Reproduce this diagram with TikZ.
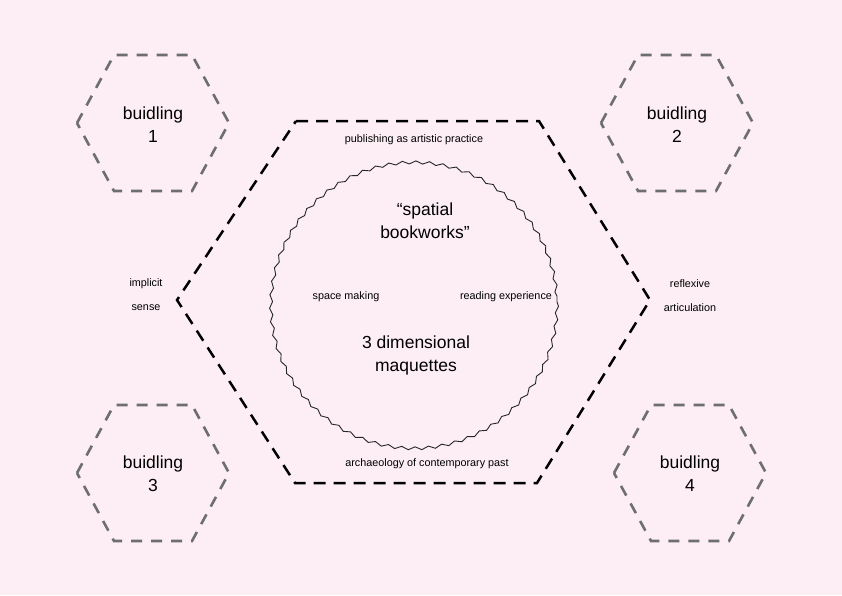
\documentclass[tikz,border=0pt]{standalone}
\usepackage{fontspec}
\setmainfont{Liberation Sans}
\usetikzlibrary{decorations.pathmorphing,calc}
\definecolor{bg}{HTML}{FCEEF4}
\definecolor{hexgray}{HTML}{6E6E6E}
\begin{document}
\begin{tikzpicture}[x=1pt,y=-1pt,
  bighex/.style={draw=black,line width=2.5pt,dash pattern=on 12pt off 8pt},
  smallhex/.style={draw=hexgray,line width=2.6pt,dash pattern=on 11pt off 9pt},
  bigtxt/.style={font=\fontsize{17.5}{21}\selectfont,align=center,inner sep=0pt},
  smalltxt/.style={font=\fontsize{10.8}{13}\selectfont,inner sep=0pt},
  wavy/.style={draw=black!85,line width=0.9pt,decorate,decoration={snake,amplitude=1.5pt,segment length=13.5pt}}]
\fill[bg] (0,0) rectangle (842,595);
\useasboundingbox (0,0) rectangle (842,595);
% big hexagon
\coordinate (h1) at (296,121);
\coordinate (h2) at (539,121);
\coordinate (h3) at (650,300);
\coordinate (h4) at (537,483);
\coordinate (h5) at (295,483);
\coordinate (h6) at (177,300);
\draw[bighex] (h1) -- (h2) -- (h3) -- (h4) -- (h5) -- (h6) -- cycle;
% wavy circle
\coordinate (cc) at (414,302);
\draw[wavy] (cc) circle (143);
% small hexagons
\foreach \n/\cx/\cy in {1/153/123, 2/677/123, 3/153/473, 4/690/473}{
  \draw[smallhex, shift={(\cx,\cy)}] (-76,0) -- (-39,-68) -- (39,-68) -- (76,0) -- (39,68) -- (-39,68) -- cycle;
}
\node[bigtxt] (b1) at (153,125) {buidling\\[2pt]1};
\node[bigtxt] (b2) at (677,125) {buidling\\[2pt]2};
\node[bigtxt] (b3) at (153,474) {buidling\\[2pt]3};
\node[bigtxt] (b4) at (690,474) {buidling\\[2pt]4};
% texts
\node[smalltxt] (pub) at (414,140) {publishing as artistic practice};
\node[smalltxt] (arch) at (427,464) {archaeology of contemporary past};
\node[bigtxt] (sb) at (425,221) {“spatial\\[2pt]bookworks”};
\node[bigtxt] (dm) at (416,355) {3 dimensional\\[2pt]maquettes};
\node[smalltxt] (sm) at (346,297) {space making};
\node[smalltxt] (re) at (506,297) {reading experience};
\node[smalltxt] (im) at (146,284) {implicit};
\node[smalltxt] (se) at (146,308) {sense};
\node[smalltxt] (rf) at (690,284) {reflexive};
\node[smalltxt] (ar) at (690,308) {articulation};
\end{tikzpicture}
\end{document}
